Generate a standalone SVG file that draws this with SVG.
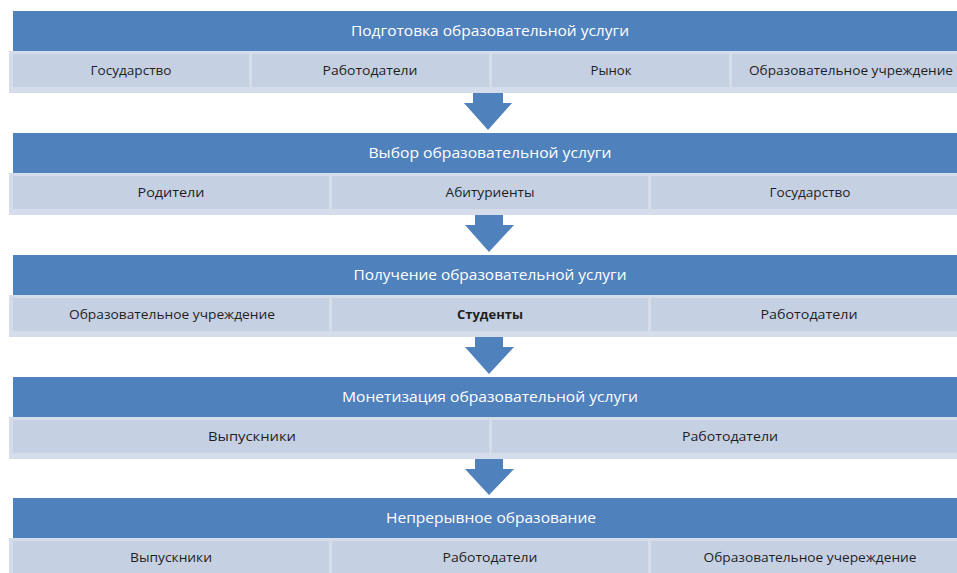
<svg xmlns="http://www.w3.org/2000/svg" width="957" height="573" viewBox="0 0 957 573">
<defs>
<style>
.hdr{fill:#4F81BD}
.band{fill:#D5DDEA}
.cell{fill:#C5D1E3}
.ht{font-family:"Open Sans","Liberation Sans",sans-serif;font-size:15px;fill:#FFFFFF;text-anchor:middle}
.st{font-family:"Open Sans","Liberation Sans",sans-serif;font-size:12px;fill:#1E1E1E;text-anchor:middle}
.arr{fill:#4F81BD}
</style>
</defs>
<rect width="957" height="573" fill="#FFFFFF"/>
<g id="connectors">
<path class="arr" d="M473,90 H503 V103 H512 L488,130 L464,103 H473 Z"/>
<path class="arr" d="M475,212 H503 V225 H514 L489,252 L465,225 H475 Z"/>
<path class="arr" d="M475,334 H503 V347 H514 L489,374 L465,347 H475 Z"/>
<path class="arr" d="M475,456 H503 V469 H514 L489,495 L465,469 H475 Z"/>
</g>
<g id="row1">
<rect class="hdr" x="13" y="11" width="962" height="40"/>
<text class="ht" x="490" y="36" textLength="278" lengthAdjust="spacingAndGlyphs">Подготовка образовательной услуги</text>
<rect class="band" x="9" y="51" width="966" height="42"/>
<rect class="cell" x="13" y="54" width="236" height="33"/>
<rect class="cell" x="252" y="54" width="237" height="33"/>
<rect class="cell" x="492" y="54" width="237" height="33"/>
<rect class="cell" x="732" y="54" width="243" height="33"/>
<text class="st" x="131" y="75" textLength="81" lengthAdjust="spacingAndGlyphs">Государство</text>
<text class="st" x="370" y="75" textLength="95" lengthAdjust="spacingAndGlyphs">Работодатели</text>
<text class="st" x="611" y="75" textLength="41" lengthAdjust="spacingAndGlyphs">Рынок</text>
<text class="st" x="851" y="75" textLength="204" lengthAdjust="spacingAndGlyphs">Образовательное учреждение</text>
</g>
<g id="row2">
<rect class="hdr" x="13" y="133" width="962" height="40"/>
<text class="ht" x="490" y="158" textLength="243" lengthAdjust="spacingAndGlyphs">Выбор образовательной услуги</text>
<rect class="band" x="9" y="173" width="966" height="42"/>
<rect class="cell" x="13" y="176" width="316" height="33"/>
<rect class="cell" x="332" y="176" width="316" height="33"/>
<rect class="cell" x="651" y="176" width="324" height="33"/>
<text class="st" x="171" y="197" textLength="67" lengthAdjust="spacingAndGlyphs">Родители</text>
<text class="st" x="490" y="197" textLength="89" lengthAdjust="spacingAndGlyphs">Абитуриенты</text>
<text class="st" x="810" y="197" textLength="81" lengthAdjust="spacingAndGlyphs">Государство</text>
</g>
<g id="row3">
<rect class="hdr" x="13" y="255" width="962" height="40"/>
<text class="ht" x="490" y="280" textLength="273" lengthAdjust="spacingAndGlyphs">Получение образовательной услуги</text>
<rect class="band" x="9" y="295" width="966" height="42"/>
<rect class="cell" x="13" y="298" width="316" height="33"/>
<rect class="cell" x="332" y="298" width="316" height="33"/>
<rect class="cell" x="651" y="298" width="324" height="33"/>
<text class="st" x="172" y="319" textLength="206" lengthAdjust="spacingAndGlyphs">Образовательное учреждение</text>
<text class="st" x="490" y="319" textLength="66" lengthAdjust="spacingAndGlyphs" font-weight="bold">Студенты</text>
<text class="st" x="809" y="319" textLength="97" lengthAdjust="spacingAndGlyphs">Работодатели</text>
</g>
<g id="row4">
<rect class="hdr" x="13" y="377" width="962" height="40"/>
<text class="ht" x="490" y="402" textLength="296" lengthAdjust="spacingAndGlyphs">Монетизация образовательной услуги</text>
<rect class="band" x="9" y="417" width="966" height="42"/>
<rect class="cell" x="13" y="420" width="476" height="33"/>
<rect class="cell" x="492" y="420" width="483" height="33"/>
<text class="st" x="252" y="441" textLength="88" lengthAdjust="spacingAndGlyphs">Выпускники</text>
<text class="st" x="730" y="441" textLength="96" lengthAdjust="spacingAndGlyphs">Работодатели</text>
</g>
<g id="row5">
<rect class="hdr" x="13" y="498" width="962" height="40"/>
<text class="ht" x="491" y="523" textLength="210" lengthAdjust="spacingAndGlyphs">Непрерывное образование</text>
<rect class="band" x="9" y="538" width="966" height="42"/>
<rect class="cell" x="13" y="541" width="316" height="33"/>
<rect class="cell" x="332" y="541" width="316" height="33"/>
<rect class="cell" x="651" y="541" width="324" height="33"/>
<text class="st" x="171" y="562" textLength="82" lengthAdjust="spacingAndGlyphs">Выпускники</text>
<text class="st" x="490" y="562" textLength="95" lengthAdjust="spacingAndGlyphs">Работодатели</text>
<text class="st" x="810" y="562" textLength="213" lengthAdjust="spacingAndGlyphs">Образовательное учереждение</text>
</g>
</svg>
